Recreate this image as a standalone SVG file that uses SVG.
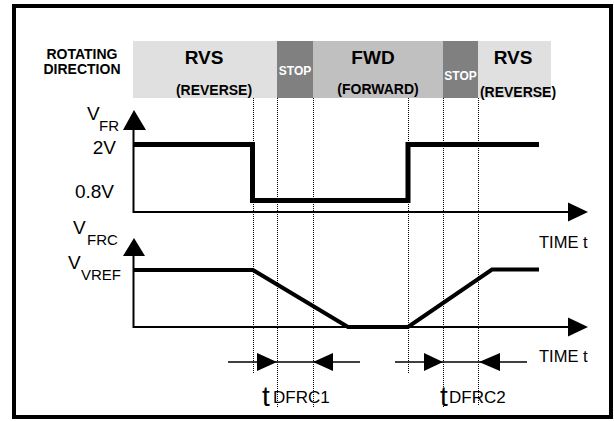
<svg xmlns="http://www.w3.org/2000/svg" width="614" height="421" viewBox="0 0 614 421">
<style>
text{font-family:"Liberation Sans",Arial,sans-serif;fill:#000}
.b{font-weight:bold}
.hd{font-size:14px;font-weight:bold}
.big{font-size:19px;font-weight:bold}
.stop{font-size:12px;font-weight:bold;fill:#fff}
.lbl{font-size:19px}
.sub{font-size:15px}
.time{font-size:16.5px}
.dot{stroke:#000;stroke-width:1;stroke-dasharray:1 1;fill:none}
.axis{stroke:#000;stroke-width:2;fill:none}
.sig{stroke:#000;stroke-width:5;fill:none;stroke-linejoin:miter}
.sig2{stroke:#000;stroke-width:4;fill:none;stroke-linejoin:miter}
.thin{stroke:#000;stroke-width:1.5;fill:none}
</style>
<rect x="0" y="0" width="614" height="421" fill="#fff"/>
<rect id="frame" x="14" y="6" width="597" height="411" fill="none" stroke="#000" stroke-width="4"/>

<g id="header">
<rect x="133" y="41" width="144" height="57" fill="#e0e0e0"/>
<rect x="277" y="41" width="36" height="57" fill="#808080"/>
<rect x="313" y="41" width="130" height="57" fill="#c0c0c0"/>
<rect x="443" y="41" width="35" height="57" fill="#808080"/>
<rect x="478" y="41" width="73" height="57" fill="#e0e0e0"/>
<text class="hd" x="82" y="59" text-anchor="middle">ROTATING</text>
<text class="hd" x="82" y="74" text-anchor="middle">DIRECTION</text>
<text class="big" x="204" y="64" text-anchor="middle">RVS</text>
<text class="hd" x="214" y="95" text-anchor="middle">(REVERSE)</text>
<text class="stop" x="295" y="75" text-anchor="middle">STOP</text>
<text class="big" x="373" y="64" text-anchor="middle">FWD</text>
<text class="hd" x="378" y="94" text-anchor="middle">(FORWARD)</text>
<text class="stop" x="460.5" y="80" text-anchor="middle">STOP</text>
<text class="big" x="513" y="64" text-anchor="middle">RVS</text>
<text class="hd" x="518" y="97" text-anchor="middle">(REVERSE)</text>
</g>

<g id="guides">
<line class="dot" x1="253.5" y1="98" x2="253.5" y2="373"/>
<line class="dot" x1="277.5" y1="98" x2="277.5" y2="408"/>
<line class="dot" x1="313.5" y1="98" x2="313.5" y2="408"/>
<line class="dot" x1="408.5" y1="98" x2="408.5" y2="373"/>
<line class="dot" x1="443.5" y1="98" x2="443.5" y2="408"/>
<line class="dot" x1="478.5" y1="98" x2="478.5" y2="406"/>
</g>

<g id="vfr-chart">
<text class="lbl" x="87" y="120">V</text>
<text class="sub" x="99" y="131">FR</text>
<text class="lbl" x="116" y="154" text-anchor="end">2V</text>
<text class="lbl" x="114" y="198" text-anchor="end">0.8V</text>
<polyline class="axis" points="133.5,130 133.5,212 570,212"/>
<polygon points="134,110 123,130 146,130" fill="#000"/>
<polygon points="588,212 568,202.5 568,221.5" fill="#000"/>
<polyline class="sig" points="133,144.5 252.5,144.5 252.5,200.5 408,200.5 408,144.5 539,144.5"/>
<text class="time" x="539" y="248">TIME t</text>
</g>

<g id="vfrc-chart">
<text class="lbl" x="73" y="234">V</text>
<text class="sub" x="87" y="245">FRC</text>
<text class="lbl" x="68" y="269">V</text>
<text class="sub" x="81" y="280">VREF</text>
<polyline class="axis" points="133.5,256 133.5,327 570,327"/>
<polygon points="134,238 123,256 145,256" fill="#000"/>
<polygon points="588,327 568,317.5 568,336.5" fill="#000"/>
<polyline class="sig2" points="133,270 253,270 348,327 408,327 492,269.5 539,269.5"/>
<text class="time" x="539" y="362">TIME t</text>
</g>

<g id="connectors">
<line class="thin" x1="228" y1="362" x2="360" y2="362"/>
<polygon points="277,362 257,353 257,371" fill="#000"/>
<polygon points="313,362 333,353 333,371" fill="#000"/>
<line class="thin" x1="395" y1="362" x2="527" y2="362"/>
<polygon points="443,362 424,353 424,371" fill="#000"/>
<polygon points="479,362 500,353 500,371" fill="#000"/>
</g>

<g id="labels">
<text x="262" y="406" style="font-size:28px">t</text>
<text x="273" y="403" style="font-size:17px">DFRC1</text>
<text x="440" y="406" style="font-size:28px">t</text>
<text x="449" y="403" style="font-size:17px">DFRC2</text>
</g>
</svg>
